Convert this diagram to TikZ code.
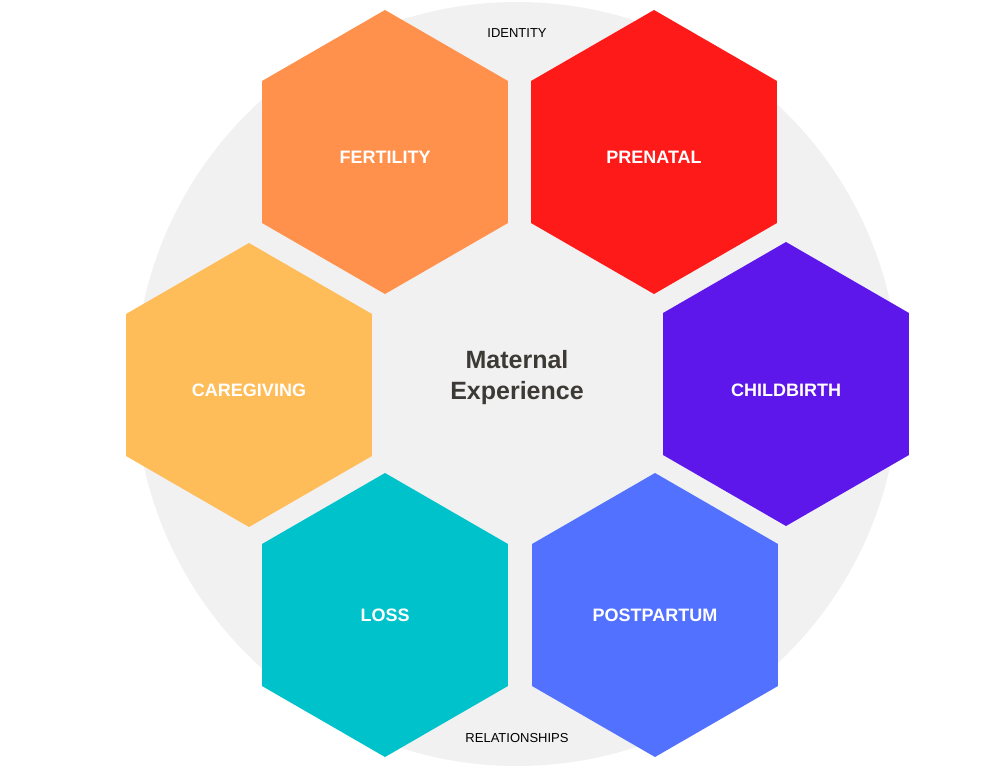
\documentclass[tikz,border=0pt]{standalone}
\usepackage{fontspec}
\setmainfont{Liberation Sans}
\definecolor{cfert}{HTML}{FF914D}
\definecolor{cpren}{HTML}{FF1A1A}
\definecolor{ccare}{HTML}{FFBD59}
\definecolor{cbirth}{HTML}{5E17EB}
\definecolor{closs}{HTML}{00C2CB}
\definecolor{cpost}{HTML}{5271FF}
\definecolor{cbg}{HTML}{F1F1F1}
\definecolor{ctext}{HTML}{3D3A35}
\tikzset{lbl/.style={text=white,font=\fontsize{18}{20}\selectfont\bfseries},
small/.style={text=black,font=\fontsize{13}{15}\selectfont}}
\newcommand{\hexa}[4]{\fill[#3] (#1,#2) ++(30:142) -- ++(150:142) -- ++(210:142) -- ++(270:142) -- ++(330:142) -- ++(30:142) -- cycle;
\node[lbl] (#4) at (#1,#2) {\MakeUppercase{#4}};}
\begin{document}
\begin{tikzpicture}[x=1pt,y=-1pt]
\useasboundingbox (0,0) rectangle (1000,768);
\fill[cbg] (517,384) circle (382);
\fill[cfert] (385,152) ++(30:142) -- ++(150:142) -- ++(210:142) -- ++(270:142) -- ++(330:142) -- ++(30:142) -- cycle;
\fill[cpren] (654,152) ++(30:142) -- ++(150:142) -- ++(210:142) -- ++(270:142) -- ++(330:142) -- ++(30:142) -- cycle;
\fill[ccare] (249,385) ++(30:142) -- ++(150:142) -- ++(210:142) -- ++(270:142) -- ++(330:142) -- ++(30:142) -- cycle;
\fill[cbirth] (786,384) ++(30:142) -- ++(150:142) -- ++(210:142) -- ++(270:142) -- ++(330:142) -- ++(30:142) -- cycle;
\fill[closs] (385,615) ++(30:142) -- ++(150:142) -- ++(210:142) -- ++(270:142) -- ++(330:142) -- ++(30:142) -- cycle;
\fill[cpost] (655,615) ++(30:142) -- ++(150:142) -- ++(210:142) -- ++(270:142) -- ++(330:142) -- ++(30:142) -- cycle;
\node[lbl] (fert) at (385,157) {FERTILITY};
\node[lbl] (pren) at (654,157) {PRENATAL};
\node[lbl] (care) at (249,390) {CAREGIVING};
\node[lbl] (birth) at (786,390) {CHILDBIRTH};
\node[lbl] (loss) at (385,615) {LOSS};
\node[lbl] (post) at (655,615) {POSTPARTUM};
\node[text=ctext,font=\fontsize{25}{31}\selectfont\bfseries,align=center] (center) at (517,378) {Maternal\\Experience};
\node[small] (ident) at (517,33) {IDENTITY};
\node[small] (rel) at (517,738) {RELATIONSHIPS};
\end{tikzpicture}
\end{document}
